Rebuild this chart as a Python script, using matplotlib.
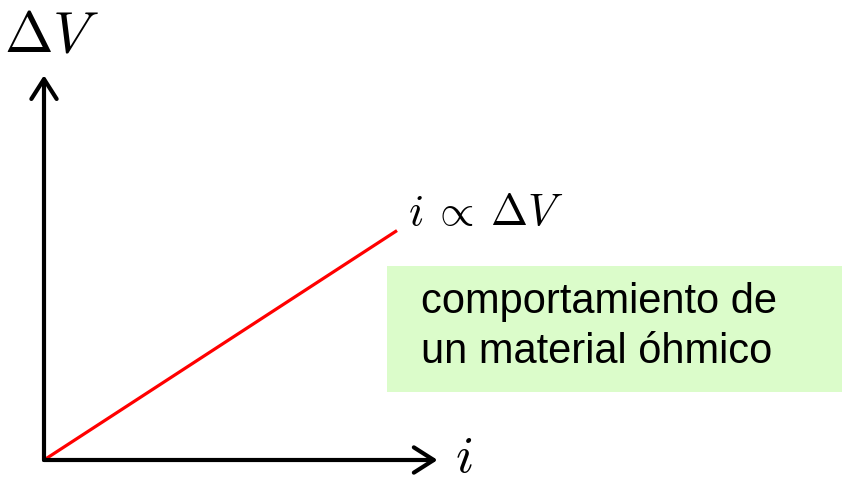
import matplotlib.pyplot as plt
from matplotlib.patches import Rectangle

plt.rcParams['mathtext.fontset'] = 'cm'

# ohmic behaviour: current proportional to voltage
current = [0, 10]
voltage = [0, 6.5]
x_label = r'$i$'
y_label = r'$\Delta V$'
line_label = r'$i\:\propto\:\Delta V$'
box_text = 'comportamiento de\nun material óhmico'

W, H = 842, 483
fig = plt.figure(figsize=(W / 100, H / 100), dpi=100)
ax = fig.add_axes([0, 0, 1, 1])
ax.axis('off')

# pixel scale: origin at (44, 460), 35.3 px per unit
s = 35.3
ax.set_xlim(-44 / s, (W - 44) / s)
ax.set_ylim(-(H - 460) / s, 460 / s)

# axes arrows
arrow = dict(arrowstyle='->, head_length=0.55, head_width=0.35', lw=3, color='black',
             shrinkA=0, shrinkB=0, mutation_scale=26)
ax.annotate('', xy=(11.15, 0), xytext=(0, 0), arrowprops=arrow)
ax.annotate('', xy=(0, 10.9), xytext=(0, 0), arrowprops=arrow)

ax.plot(current, voltage, color='red', lw=2.3, solid_capstyle='butt')

ax.text(0.22, 12.05, y_label, fontsize=42, ha='center', va='center')
ax.text(11.9, 0.08, x_label, fontsize=38, ha='center', va='center')
ax.text(10.3, 7.0, line_label, fontsize=32, ha='left', va='center')

fig.add_artist(Rectangle((387 / W, (H - 392) / H), 1 - 387 / W, 126 / H,
                         transform=fig.transFigure, facecolor='#dbfcca',
                         edgecolor='none', zorder=0))
fig.text(421 / W, 1 - 327 / H, box_text, fontsize=30, family='Liberation Sans',
         ha='left', va='center', linespacing=1.3)

fig.savefig('out.png', dpi=100)
